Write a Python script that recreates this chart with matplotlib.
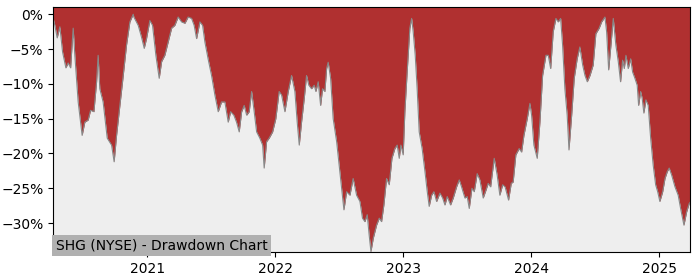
import numpy as np
import pandas as pd
import matplotlib
matplotlib.use("Agg")
import matplotlib.pyplot as plt
import matplotlib.dates as mdates
from matplotlib.ticker import PercentFormatter

# drawdown: decimal year -> percent below peak
years = [
    2020.266, 2020.279, 2020.297, 2020.318, 2020.339, 2020.365, 2020.383, 2020.402,
    2020.422, 2020.435, 2020.461, 2020.492, 2020.513, 2020.539, 2020.558, 2020.584,
    2020.605, 2020.617, 2020.630, 2020.656, 2020.688, 2020.722, 2020.742, 2020.761,
    2020.787, 2020.808, 2020.839, 2020.865, 2020.891, 2020.896, 2020.930, 2020.956,
    2020.977, 2020.995, 2021.021, 2021.042, 2021.068, 2021.094, 2021.113, 2021.138,
    2021.164, 2021.191, 2021.216, 2021.242, 2021.269, 2021.295, 2021.320, 2021.347,
    2021.367, 2021.386, 2021.412, 2021.433, 2021.451, 2021.477, 2021.503, 2021.529,
    2021.555, 2021.581, 2021.607, 2021.633, 2021.652, 2021.677, 2021.698, 2021.719,
    2021.738, 2021.758, 2021.777, 2021.797, 2021.816, 2021.836, 2021.855, 2021.880,
    2021.902, 2021.914, 2021.933, 2021.953, 2021.980, 2022.005, 2022.031, 2022.050,
    2022.076, 2022.102, 2022.128, 2022.154, 2022.172, 2022.188, 2022.206, 2022.227,
    2022.245, 2022.263, 2022.284, 2022.305, 2022.318, 2022.336, 2022.355, 2022.370,
    2022.388, 2022.402, 2022.414, 2022.433, 2022.453, 2022.480, 2022.505, 2022.537,
    2022.558, 2022.584, 2022.609, 2022.636, 2022.662, 2022.682, 2022.701, 2022.719,
    2022.734, 2022.748, 2022.766, 2022.792, 2022.813, 2022.831, 2022.849, 2022.870,
    2022.891, 2022.912, 2022.935, 2022.953, 2022.969, 2022.982, 2023.000, 2023.013,
    2023.031, 2023.052, 2023.066, 2023.078, 2023.094, 2023.109, 2023.125, 2023.148,
    2023.170, 2023.188, 2023.203, 2023.222, 2023.240, 2023.261, 2023.287, 2023.308,
    2023.326, 2023.344, 2023.370, 2023.391, 2023.417, 2023.438, 2023.456, 2023.482,
    2023.500, 2023.516, 2023.537, 2023.555, 2023.578, 2023.599, 2023.625, 2023.646,
    2023.664, 2023.683, 2023.711, 2023.734, 2023.755, 2023.777, 2023.796, 2023.823,
    2023.844, 2023.859, 2023.880, 2023.906, 2023.925, 2023.943, 2023.969, 2023.990,
    2024.003, 2024.021, 2024.047, 2024.068, 2024.089, 2024.115, 2024.133, 2024.152,
    2024.172, 2024.193, 2024.211, 2024.230, 2024.245, 2024.263, 2024.281, 2024.295,
    2024.316, 2024.336, 2024.359, 2024.380, 2024.402, 2024.420, 2024.438, 2024.459,
    2024.484, 2024.505, 2024.531, 2024.550, 2024.576, 2024.589, 2024.605, 2024.623,
    2024.641, 2024.661, 2024.680, 2024.698, 2024.714, 2024.727, 2024.740, 2024.758,
    2024.777, 2024.792, 2024.810, 2024.828, 2024.839, 2024.855, 2024.867, 2024.880,
    2024.896, 2024.914, 2024.933, 2024.953, 2024.972, 2024.988, 2025.005, 2025.027,
    2025.045, 2025.063, 2025.078, 2025.097, 2025.123, 2025.148, 2025.167, 2025.193,
    2025.214, 2025.234, 2025.242,
]
drawdown = [
    -0.6, -1.6, -3.4, -1.8, -5.4, -7.7, -7.0, -7.7,
    -2.0, -5.9, -12.6, -17.4, -15.5, -15.2, -13.8, -14.0,
    -9.7, -5.9, -10.7, -12.6, -17.8, -18.8, -21.2, -17.4,
    -13.1, -9.7, -4.4, -1.1, 0.0, -0.4, -1.6, -3.3,
    -4.9, -3.5, -0.9, -1.6, -5.9, -9.2, -6.8, -5.9,
    -4.0, -2.0, -1.6, -0.4, -1.1, -1.3, -0.4, -0.6,
    -1.6, -3.5, -1.1, -1.6, -4.0, -6.5, -8.8, -11.6,
    -14.0, -12.6, -12.6, -15.5, -14.0, -14.5, -15.5, -16.9,
    -14.0, -13.1, -14.5, -14.0, -11.1, -14.0, -16.9, -17.8,
    -18.8, -22.1, -18.3, -17.8, -16.9, -15.0, -11.1, -11.6,
    -14.0, -11.1, -8.8, -11.1, -15.5, -18.8, -15.5, -12.1,
    -8.8, -10.2, -10.7, -10.2, -11.1, -9.7, -13.1, -10.7,
    -11.1, -7.8, -6.9, -9.2, -15.0, -18.3, -22.6, -28.1,
    -25.5, -26.0, -23.6, -26.0, -26.9, -29.3, -29.8, -28.8,
    -31.7, -34.1, -32.2, -30.3, -29.3, -29.8, -27.4, -23.6,
    -24.5, -20.7, -19.3, -18.8, -20.7, -18.8, -20.2, -14.0,
    -8.3, -2.0, -0.6, -2.5, -5.9, -10.7, -16.9, -19.3,
    -22.6, -25.5, -27.6, -26.0, -25.5, -26.9, -25.7, -26.4,
    -27.4, -26.2, -27.4, -26.4, -24.8, -23.8, -24.8, -26.4,
    -26.2, -27.9, -25.0, -25.5, -22.9, -23.8, -26.4, -25.3,
    -24.3, -24.8, -20.7, -23.1, -26.0, -24.5, -24.8, -26.7,
    -24.3, -24.1, -20.2, -19.3, -19.8, -17.4, -15.0, -12.8,
    -14.5, -18.8, -20.7, -15.5, -8.8, -5.9, -5.9, -7.8,
    -2.5, -0.6, -1.1, -0.6, -4.4, -10.7, -14.5, -19.5,
    -14.5, -9.2, -6.4, -4.7, -7.3, -8.8, -9.7, -8.8,
    -7.3, -2.8, -2.0, -1.1, -0.4, -2.5, -8.0, -4.4,
    -0.6, -4.4, -6.8, -9.7, -6.6, -7.8, -5.9, -7.8,
    -6.4, -8.3, -9.2, -10.2, -13.1, -11.1, -12.1, -14.2,
    -12.3, -13.1, -17.8, -21.7, -24.5, -25.5, -26.9, -25.5,
    -23.6, -22.6, -22.1, -23.1, -24.8, -26.0, -27.9, -30.3,
    -28.4, -27.2, -27.0,
]
title = "SHG (NYSE) - Drawdown Chart"


def to_dates(values):
    # decimal years -> timestamps
    base = pd.Timestamp("2020-01-01")
    return [base + pd.Timedelta(days=(v - 2020) * 365.25) for v in values]


dates = to_dates(years)
dd = np.array(drawdown)
y_top = 1.0

fig = plt.figure(figsize=(7, 2.8), dpi=100)
ax = fig.add_axes([0.076, 0.099, 0.910, 0.875])
ax.set_facecolor("#eeeeee")

# red area runs from the drawdown line up to the top of the plot
ax.fill_between(dates, dd, y_top, color="#b03030", linewidth=0)
ax.plot(dates, dd, color="#888888", linewidth=0.8)

start, end = to_dates([2020.266, 2025.242])
ax.set_xlim(start, end)
ax.set_ylim(-34.2, y_top)

ax.xaxis.set_major_locator(mdates.YearLocator())
ax.xaxis.set_major_formatter(mdates.DateFormatter("%Y"))
ax.yaxis.set_major_formatter(PercentFormatter(decimals=0))
ax.set_yticks([0, -5, -10, -15, -20, -25, -30])

ax.text(0.004, 0.0, title, transform=ax.transAxes, fontsize=10,
        ha="left", va="bottom",
        bbox=dict(facecolor="#b0b0b0", edgecolor="none", pad=2.5))

fig.savefig("out.png", dpi=100)
